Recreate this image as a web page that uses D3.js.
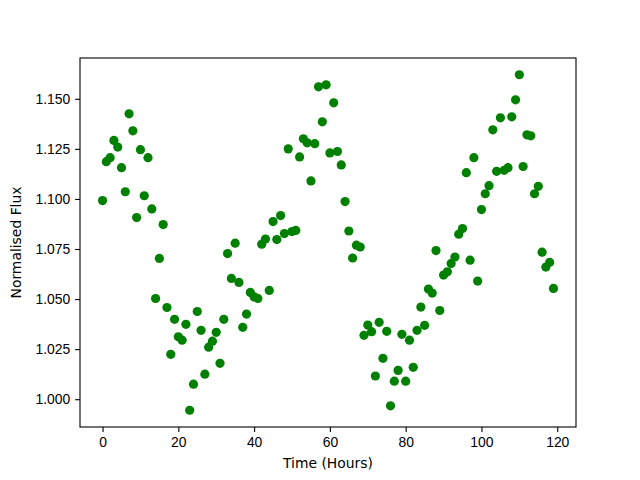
<!DOCTYPE html>
<html>
<head>
<meta charset="utf-8">
<script src="https://cdn.jsdelivr.net/npm/d3@7"></script>
<style>
  body { margin: 0; background: #fff; }
  svg { font-family: "DejaVu Sans", sans-serif; }
  .tick text { font-size: 13.9px; fill: #000; }
  .axis path, .axis line { stroke: #000; stroke-width: 1.1px; }
  .label { font-size: 13.9px; fill: #000; }
</style>
</head>
<body>
<svg width="640" height="480"></svg>
<script>
// hours 0..119, one reading per hour
const hours = d3.range(0, 120);
const flux = [
  1.0992, 1.1186, 1.1206, 1.1292, 1.1259, 1.1156, 1.1036, 1.1425, 1.1340, 1.0907,
  1.1246, 1.1016, 1.1206, 1.0950, 1.0503, 1.0703, 1.0872, 1.0458, 1.0224, 1.0399,
  1.0312, 1.0295, 1.0374, 0.9945, 1.0075, 1.0438, 1.0344, 1.0125, 1.0260, 1.0290,
  1.0334, 1.0179, 1.0399, 1.0727, 1.0603, 1.0779, 1.0583, 1.0359, 1.0425, 1.0533,
  1.0511, 1.0503, 1.0774, 1.0800, 1.0543, 1.0887, 1.0797, 1.0917, 1.0827, 1.1250,
  1.0837, 1.0843, 1.1210, 1.1300, 1.1280, 1.1090, 1.1276, 1.1560, 1.1385, 1.1570,
  1.1230, 1.1480, 1.1237, 1.1170, 1.0987, 1.0840, 1.0705, 1.0769, 1.0760, 1.0319,
  1.0370, 1.0337, 1.0116, 1.0384, 1.0204, 1.0339, 0.9967, 1.0090, 1.0144, 1.0324,
  1.0090, 1.0295, 1.0159, 1.0344, 1.0460, 1.0369, 1.0550, 1.0530, 1.0742, 1.0443,
  1.0620, 1.0636, 1.0678, 1.0710, 1.0824, 1.0852, 1.1131, 1.0694, 1.1206, 1.0590,
  1.0947, 1.1026, 1.1066, 1.1345, 1.1138, 1.1405, 1.1143, 1.1156, 1.1410, 1.1495,
  1.1620, 1.1162, 1.1320, 1.1315, 1.1026, 1.1063, 1.0734, 1.0660, 1.0684, 1.0553
];
const xTicks = [0, 20, 40, 60, 80, 100, 120];
const yTicks = [1.000, 1.025, 1.050, 1.075, 1.100, 1.125, 1.150];

const mLeft = 80, mRight = 64, mTop = 58, mBottom = 53;
const svg = d3.select('svg');
const width = +svg.attr('width'), height = +svg.attr('height');
const plotW = width - mLeft - mRight;
const plotH = height - mTop - mBottom;

// matplotlib-style 5% margins
const pad = (ext) => {
  const m = (ext[1] - ext[0]) * 0.05;
  return [ext[0] - m, ext[1] + m];
};
const x = d3.scaleLinear().domain(pad(d3.extent(hours))).range([0, plotW]);
const y = d3.scaleLinear().domain(pad(d3.extent(flux))).range([plotH, 0]);

const g = svg.append('g').attr('transform', `translate(${mLeft},${mTop})`);

const data = hours.map((h, i) => ({ h, f: flux[i] }));
g.append('g')
  .selectAll('circle')
  .data(data)
  .enter()
  .append('circle')
  .attr('cx', (d) => x(d.h))
  .attr('cy', (d) => y(d.f))
  .attr('r', 4.6)
  .attr('fill', '#008000');

g.append('g')
  .attr('class', 'axis')
  .attr('transform', `translate(0,${plotH})`)
  .call(d3.axisBottom(x).tickValues(xTicks).tickSizeOuter(0).tickSize(4.9).tickPadding(4.9))
  .call((a) => a.select('.domain').remove());

g.append('g')
  .attr('class', 'axis')
  .call(d3.axisLeft(y).tickValues(yTicks).tickFormat(d3.format('.3f')).tickSize(4.9).tickPadding(4.9))
  .call((a) => a.select('.domain').remove());

// frame
g.append('rect')
  .attr('width', plotW)
  .attr('height', plotH)
  .attr('fill', 'none')
  .attr('stroke', '#000')
  .attr('stroke-width', 1.1);

g.selectAll('.tick text').attr('font-family', null).attr('font-size', null);

svg.append('text')
  .attr('class', 'label')
  .attr('x', mLeft + plotW / 2)
  .attr('y', 468)
  .attr('text-anchor', 'middle')
  .text('Time (Hours)');

svg.append('text')
  .attr('class', 'label')
  .attr('transform', `translate(21,${mTop + plotH / 2}) rotate(-90)`)
  .attr('text-anchor', 'middle')
  .text('Normalised Flux');
</script>
</body>
</html>
